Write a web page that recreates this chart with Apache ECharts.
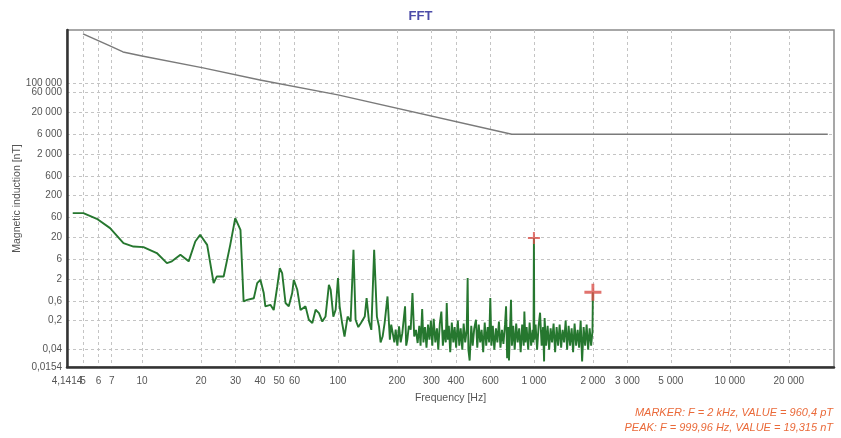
<!DOCTYPE html>
<html>
<head>
<meta charset="utf-8">
<script src="https://cdn.jsdelivr.net/npm/echarts@6/dist/echarts.min.js"></script>
<style>
html,body{margin:0;padding:0;background:#fff;}
#chart{width:841px;height:438px;}
</style>
</head>
<body>
<div id="chart"></div>
<script>
// ---- Data ----
const xTickValues = [4.1414, 6, 7, 10, 20, 30, 40, 50, 60, 100, 200, 300, 400, 600, 1000, 2000, 3000, 5000, 10000, 20000];
const xTickLabels = ['4,1414', '6', '7', '10', '20', '30', '40', '50', '60', '100', '200', '300', '400', '600', '1 000', '2 000', '3 000', '5 000', '10 000', '20 000'];
const xExtraTickValues = [5];
const xExtraTickLabels = ['5'];
const yTickValues = [0.0154, 0.04, 0.2, 0.6, 2, 6, 20, 60, 200, 600, 2000, 6000, 20000, 100000];
const yTickLabels = ['0,0154', '0,04', '0,2', '0,6', '2', '6', '20', '60', '200', '600', '2 000', '6 000', '20 000', '100 000'];
const yExtraTickValues = [60000];
const yExtraTickLabels = ['60 000'];

// limit curve [Hz, nT]
const limitCurve = [
  [5.0, 1530000], [6.86, 789000], [8.0, 566000], [10, 454000], [20.5, 234000],
  [40, 120000], [100, 52600], [771, 6000], [31600, 6000]
];

// measured spectrum [Hz, nT]
const spectrumLow = [
  [4.43, 76], [5.02, 76], [5.88, 55.6], [6.87, 33.3], [8.04, 14.5], [9.04, 12.0], [10.17, 11.6],
  [11.9, 8.4], [13.4, 4.8], [14.2, 5.3], [15.7, 7.6], [17.3, 5.3], [18.7, 15.9], [19.8, 23],
  [21.5, 13.2], [23.2, 1.6], [24.1, 2.3], [26.1, 2.3], [28.2, 13.2], [29.9, 57.8], [31.8, 30.3],
  [33.0, 0.58], [34.4, 0.63], [37.2, 0.69], [38.7, 1.59], [40.2, 1.91], [41.8, 0.92], [42.6, 0.44],
  [45.2, 0.48], [47.0, 0.36], [49.0, 1.32], [50.5, 3.65], [51.9, 2.77], [54.0, 0.53], [56.1, 0.44],
  [58.4, 0.92], [59.5, 1.91], [62.0, 1.1], [64.4, 0.36], [68.3, 0.44], [71.0, 0.21], [74.0, 0.175],
  [76.9, 0.364], [80.0, 0.303], [83.2, 0.19], [86.4, 0.25], [89.9, 1.45], [91.8, 1.1], [94.7, 0.25],
  [97.3, 0.364], [100, 2.1], [102, 0.44], [105, 0.175], [108, 0.083], [112, 0.25], [116, 0.19],
  [120, 10], [123, 0.21], [127, 0.14], [131, 0.175], [137, 0.25], [140, 0.695], [144, 0.19],
  [148, 0.12], [153, 10], [158, 0.25], [162, 0.145], [165, 0.06], [169, 0.083], [173, 0.175],
  [179, 0.76], [184, 0.07], [187, 0.16], [190, 0.145], [194, 0.06], [197, 0.121], [201, 0.05],
  [205, 0.145], [209, 0.06], [213, 0.1], [220, 0.44], [223, 0.05], [226, 0.07], [230, 0.15],
  [235, 0.121], [240, 0.92], [245, 0.083], [250, 0.12]
];
const spectrumNoise = [
  [255, 0.058], [260, 0.15], [264, 0.05], [269, 0.38], [273, 0.06], [278, 0.14], [283, 0.045],
  [288, 0.16], [293, 0.07], [298, 0.2], [303, 0.05], [308, 0.22], [314, 0.06], [320, 0.13],
  [325, 0.04], [331, 0.17], [337, 0.33], [343, 0.05], [349, 0.12], [355, 0.06], [359, 0.53],
  [364, 0.07], [368, 0.15], [374, 0.035], [381, 0.18], [388, 0.06], [394, 0.14], [401, 0.045],
  [409, 0.2], [416, 0.05], [423, 0.13], [431, 0.04], [438, 0.17], [446, 0.06], [454, 0.12],
  [459, 2.1], [463, 0.04], [470, 0.022], [479, 0.15], [487, 0.05], [496, 0.13], [506, 0.21],
  [514, 0.045], [523, 0.16], [532, 0.06], [541, 0.12], [551, 0.035], [561, 0.18], [571, 0.05],
  [581, 0.14], [591, 0.06], [599, 0.7], [607, 0.05], [617, 0.15], [628, 0.04], [640, 0.13],
  [651, 0.06], [663, 0.19], [675, 0.045], [687, 0.12], [699, 0.055], [712, 0.16], [721, 0.44],
  [730, 0.025], [740, 0.14], [746, 0.022], [755, 0.12], [764, 0.63], [772, 0.05], [784, 0.15],
  [798, 0.04], [812, 0.17], [826, 0.06], [841, 0.13], [856, 0.035], [871, 0.16], [887, 0.05],
  [894, 0.33], [905, 0.06], [918, 0.14], [935, 0.04], [951, 0.18], [968, 0.05], [985, 0.12],
  [995, 0.06], [1000, 19.315], [1005, 0.07], [1020, 0.16], [1038, 0.04], [1057, 0.15], [1075, 0.31],
  [1095, 0.05], [1114, 0.14], [1127, 0.021], [1134, 0.23], [1154, 0.05], [1175, 0.15], [1196, 0.04],
  [1217, 0.13], [1238, 0.06], [1260, 0.17], [1283, 0.035], [1306, 0.14], [1329, 0.05], [1353, 0.16],
  [1377, 0.045], [1401, 0.12], [1426, 0.06], [1452, 0.2], [1477, 0.04], [1504, 0.15], [1530, 0.05],
  [1558, 0.13], [1585, 0.035], [1613, 0.17], [1642, 0.05], [1672, 0.12], [1701, 0.045], [1732, 0.2],
  [1762, 0.021], [1794, 0.14], [1826, 0.05], [1858, 0.16], [1891, 0.04], [1925, 0.13], [1959, 0.05],
  [1990, 0.11], [2000, 0.9604]
];
const markerPoint = [2000, 0.9604];
const peakPoint = [999.96, 19.315];

const titleText = 'FFT';
const xName = 'Frequency [Hz]';
const yName = 'Magnetic induction [nT]';
const infoLines = ['MARKER: F = 2 kHz, VALUE = 960,4 pT', 'PEAK: F = 999,96 Hz, VALUE = 19,315 nT'];

// ---- Chart ----
function lookup(values, labels) {
  return function (v) {
    for (let i = 0; i < values.length; i++) {
      if (Math.abs(Math.log10(v) - Math.log10(values[i])) < 1e-4) return labels[i];
    }
    return '';
  };
}
const plusPath = 'path://M5,0H7V5H12V7H7V12H5V7H0V5H5Z';
const FONT = 'Liberation Sans, Arial, sans-serif';
const X_MIN = 4.1414, X_MAX = 34000, Y_MIN = 0.0154, Y_MAX = 1900000;
const labelStyle = {color: '#555', fontSize: 10, fontFamily: FONT};
const gridLine = {show: true, lineStyle: {color: '#c4c4c4', width: 1, type: [3, 3]}};

const chart = echarts.init(document.getElementById('chart'), null, {renderer: 'canvas'});
chart.setOption({
  animation: false,
  backgroundColor: '#ffffff',
  title: {
    text: titleText, left: 'center', top: 5,
    textStyle: {color: '#4b4ba8', fontSize: 13, fontWeight: 'bold', fontFamily: FONT}
  },
  grid: {
    left: 67, right: 7, top: 30, bottom: 71, containLabel: false, outerBoundsMode: 'none',
    show: true, borderColor: '#8a8a8a', borderWidth: 1.5, backgroundColor: '#ffffff'
  },
  xAxis: [
    {
      type: 'log', logBase: 10, min: X_MIN, max: X_MAX, position: 'bottom',
      name: xName, nameLocation: 'middle', nameGap: 26, nameMoveOverlap: false,
      nameTextStyle: {color: '#555', fontSize: 10.5, fontFamily: FONT},
      axisLine: {show: true, lineStyle: {color: '#333', width: 2.5}},
      axisTick: {show: false, customValues: xTickValues.concat(xExtraTickValues)},
      axisLabel: Object.assign({customValues: xTickValues, formatter: lookup(xTickValues, xTickLabels),
        showMinLabel: true, showMaxLabel: true, hideOverlap: false, margin: 9}, labelStyle),
      splitLine: gridLine
    },
    {
      type: 'log', logBase: 10, min: X_MIN, max: X_MAX, position: 'bottom',
      axisLine: {show: false}, axisTick: {show: false}, splitLine: {show: false},
      axisLabel: Object.assign({customValues: xExtraTickValues, formatter: lookup(xExtraTickValues, xExtraTickLabels),
        showMinLabel: true, showMaxLabel: true, margin: 9}, labelStyle)
    }
  ],
  yAxis: [
    {
      type: 'log', logBase: 10, min: Y_MIN, max: Y_MAX, position: 'left',
      name: yName, nameLocation: 'middle', nameGap: 44, nameMoveOverlap: false,
      nameTextStyle: {color: '#555', fontSize: 10.5, fontFamily: FONT},
      axisLine: {show: true, lineStyle: {color: '#333', width: 2.5}},
      axisTick: {show: false, customValues: yTickValues.concat(yExtraTickValues)},
      axisLabel: Object.assign({customValues: yTickValues, formatter: lookup(yTickValues, yTickLabels),
        showMinLabel: true, showMaxLabel: true, hideOverlap: false, margin: 5}, labelStyle),
      splitLine: gridLine
    },
    {
      type: 'log', logBase: 10, min: Y_MIN, max: Y_MAX, position: 'left',
      axisLine: {show: false}, axisTick: {show: false}, splitLine: {show: false},
      axisLabel: Object.assign({customValues: yExtraTickValues, formatter: lookup(yExtraTickValues, yExtraTickLabels),
        showMinLabel: true, showMaxLabel: true, margin: 5}, labelStyle)
    }
  ],
  series: [
    {
      type: 'line', data: limitCurve, showSymbol: false, symbol: 'none',
      lineStyle: {color: '#7a7a7a', width: 1.5}, z: 3
    },
    {
      type: 'line', data: spectrumLow.concat(spectrumNoise), showSymbol: false, symbol: 'none',
      lineStyle: {color: '#26772f', width: 1.9}, z: 4
    },
    {
      type: 'scatter', data: [peakPoint], symbol: plusPath, symbolSize: 12,
      itemStyle: {color: '#d9504a'}, z: 5
    },
    {
      type: 'scatter', data: [markerPoint], symbol: plusPath, symbolSize: 17,
      itemStyle: {color: '#d9504a'}, z: 5
    }
  ],
  graphic: [
    {type: 'text', right: 8, top: 407, style: {text: infoLines[0], fill: '#ea6a3a',
      font: 'italic 11px ' + FONT, textAlign: 'right'}},
    {type: 'text', right: 8, top: 422, style: {text: infoLines[1], fill: '#ea6a3a',
      font: 'italic 11px ' + FONT, textAlign: 'right'}}
  ]
});
</script>
</body>
</html>
